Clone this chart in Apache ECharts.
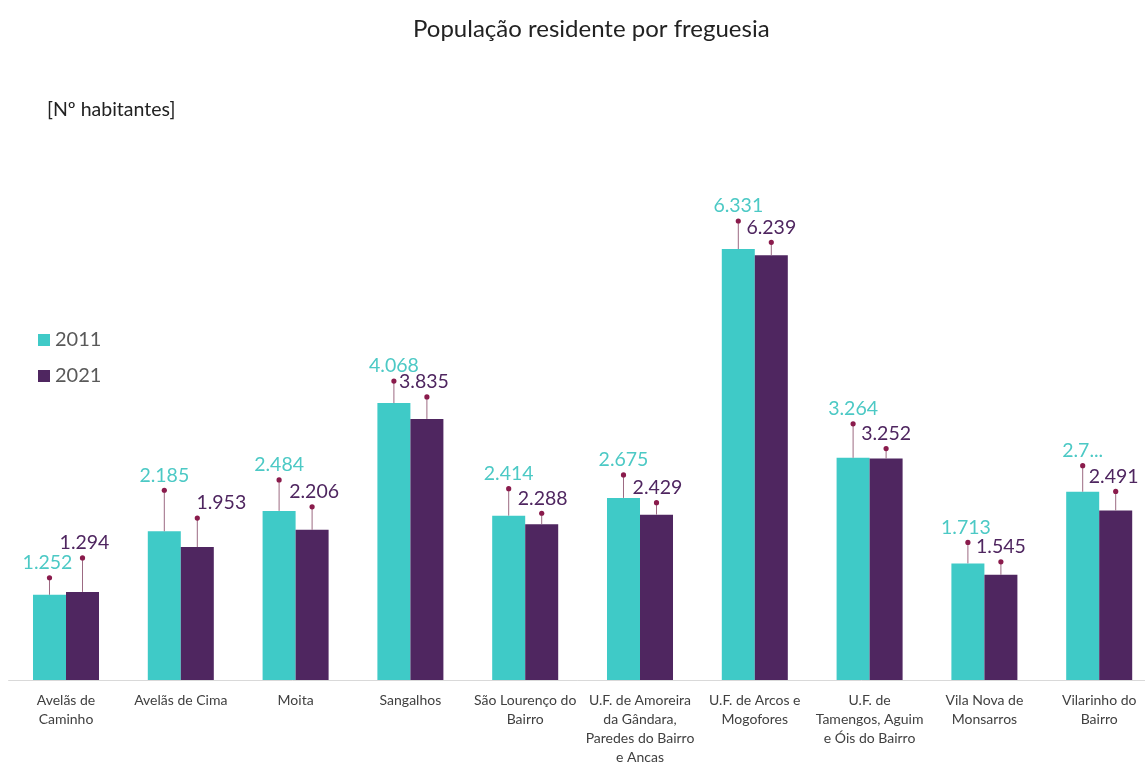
<!DOCTYPE html>
<html>
<head>
<meta charset="utf-8">
<script src="https://cdn.jsdelivr.net/npm/echarts@6/dist/echarts.min.js"></script>
<style>html,body{margin:0;padding:0;background:#fff;}#c{width:1145px;height:765px;}</style>
</head>
<body>
<div id="c"></div>
<script>
const categories = [
  'Avelãs de\nCaminho',
  'Avelãs de Cima',
  'Moita',
  'Sangalhos',
  'São Lourenço do\nBairro',
  'U.F. de Amoreira\nda Gândara,\nParedes do Bairro\ne Ancas',
  'U.F. de Arcos e\nMogofores',
  'U.F. de\nTamengos, Aguim\ne Óis do Bairro',
  'Vila Nova de\nMonsarros',
  'Vilarinho do\nBairro'
];
const seriesNames = ['2011', '2021'];
const values2011 = [1252, 2185, 2484, 4068, 2414, 2675, 6331, 3264, 1713, 2766];
const values2021 = [1294, 1953, 2206, 3835, 2288, 2429, 6239, 3252, 1545, 2491];
// label text overrides (truncated label in the original)
const labels2011 = ['1.252', '2.185', '2.484', '4.068', '2.414', '2.675', '6.331', '3.264', '1.713', '2.7...'];
const labels2021 = ['1.294', '1.953', '2.206', '3.835', '2.288', '2.429', '6.239', '3.252', '1.545', '2.491'];
// callout layout (px): leader length above bar top, label horizontal shift
const lift2011 = [17, 41, 31, 22, 27, 23, 28, 34, 21, 26];
const lift2021 = [34, 29, 23, 22, 11, 12, 13, 10, 13, 19];
const shift2011 = [-2, 0, 0, 0, 0, 0, 0, 0, -2, 0];
const shift2021 = [2, 24, 2, -3, 1, 1, 0, 0, 0, -2];

const TEAL = '#3FCAC7';
const PURPLE = '#4F2660';
const GAP = 0.425;

function calloutSeries(name, values, labels, lifts, shifts, side, textColor) {
  return {
    type: 'custom',
    name: name + ' callout',
    silent: true,
    z: 5,
    data: values.map((v, i) => [i, v, lifts[i], shifts[i]]),
    renderItem: function (params, api) {
      const idx = api.value(0);
      const pt = api.coord([idx, api.value(1)]);
      const band = api.size([1, 0])[0];
      const bw = band * (1 - GAP) / 2;
      const x = pt[0] + side * bw / 2;
      const yTop = pt[1];
      const yDot = yTop - api.value(2);
      const lbl = labels[params.dataIndex];
      return {
        type: 'group',
        children: [
          { type: 'line', shape: { x1: x, y1: yTop, x2: x, y2: yDot }, style: { stroke: '#9C6A82', lineWidth: 1 } },
          { type: 'circle', shape: { cx: x, cy: yDot, r: 2.6 }, style: { fill: '#8A1B4C' } },
          { type: 'text', x: x + api.value(3), y: yDot - 15,
            style: { text: lbl, fill: textColor, font: '19.5px Lato', align: 'center', verticalAlign: 'middle' } }
        ]
      };
    }
  };
}

const chart = echarts.init(document.getElementById('c'));
chart.setOption({
  backgroundColor: '#ffffff',
  animation: false,
  title: [
    { text: 'População residente por freguesia', left: 408, top: 12,
      textStyle: { fontFamily: 'Lato', fontSize: 24, fontWeight: 'normal', color: '#222222' } },
    { text: '[Nº habitantes]', left: 42, top: 95,
      textStyle: { fontFamily: 'Lato', fontSize: 19.5, fontWeight: 'normal', color: '#222222' } }
  ],
  legend: {
    data: seriesNames,
    orient: 'vertical',
    left: 33,
    top: 325,
    itemWidth: 12,
    itemHeight: 12,
    itemGap: 16,
    icon: 'rect',
    textStyle: { fontFamily: 'Lato', fontSize: 20, color: '#595959' }
  },
  grid: { left: 8.6, width: 1148, top: 135.4, height: 544.6, containLabel: false, outerBoundsMode: 'none' },
  xAxis: {
    type: 'category',
    data: categories,
    axisLine: { show: true, lineStyle: { color: '#D9D9D9', width: 1 } },
    axisTick: { show: false },
    axisLabel: { interval: 0, margin: 11, fontFamily: 'Lato', fontSize: 14, lineHeight: 19, color: '#404040' }
  },
  yAxis: {
    type: 'value', min: 0, max: 8000,
    show: false,
    splitLine: { show: false }
  },
  series: [
    { name: seriesNames[0], type: 'bar', data: values2011, barGap: 0, barCategoryGap: (GAP * 100) + '%',
      itemStyle: { color: TEAL } },
    { name: seriesNames[1], type: 'bar', data: values2021, barGap: 0, barCategoryGap: (GAP * 100) + '%',
      itemStyle: { color: PURPLE } },
    calloutSeries('2011', values2011, labels2011, lift2011, shift2011, -1, '#4CC9C5'),
    calloutSeries('2021', values2021, labels2021, lift2021, shift2021, 1, '#4F2660')
  ]
});
</script>
</body>
</html>
